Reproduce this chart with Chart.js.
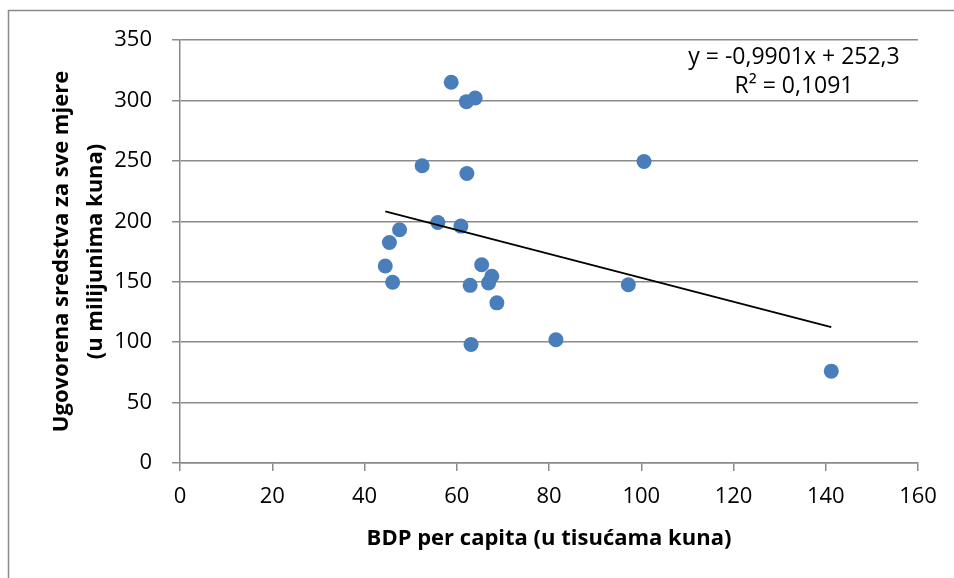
<!DOCTYPE html>
<html>
<head>
<meta charset="utf-8">
<script src="https://cdn.jsdelivr.net/npm/chart.js@4.4.1/dist/chart.umd.min.js"></script>
<style>
  html, body { margin: 0; padding: 0; background: #fff; }
  #wrap { width: 954px; height: 578px; position: relative; }
</style>
</head>
<body>
<div id="wrap"><canvas id="chart" width="954" height="578"></canvas></div>
<script>
// Data
const bdp = [58.8, 62.1, 64.0, 52.5, 62.2, 100.6, 47.6, 45.4, 44.5, 46.1, 55.9,
  60.9, 65.4, 67.6, 66.9, 62.9, 68.7, 63.1, 81.5, 97.2, 141.2];
const sredstva = [315, 299, 302, 246, 239.5, 249.5, 193, 182.5, 163, 149.5, 199,
  196, 164, 154.5, 149, 147, 132.5, 98, 102, 147.5, 76];
const xTicks = [0, 20, 40, 60, 80, 100, 120, 140, 160];
const yTicks = [0, 50, 100, 150, 200, 250, 300, 350];

// Trendline as given in the chart
const slope = -0.9901;
const intercept = 252.3;
const eqLines = ['y = -0,9901x + 252,3', 'R² = 0,1091'];

const points = bdp.map((x, i) => ({ x, y: sredstva[i] }));
const xMin = Math.min(...bdp);
const xMax = Math.max(...bdp);
const trend = [xMin, xMax].map(x => ({ x, y: slope * x + intercept }));

const FONT = "'Open Sans', 'Noto Sans', sans-serif";
const GRID = '#8a8a8a';

// Frame + equation text
const extras = {
  id: 'extras',
  afterDraw(chart) {
    const ctx = chart.ctx;
    ctx.save();
    ctx.strokeStyle = '#8a8a8a';
    ctx.lineWidth = 1.5;
    ctx.strokeRect(8.5, 10.5, 1000, 700);
    ctx.fillStyle = '#000';
    ctx.font = `23px ${FONT}`;
    ctx.textAlign = 'center';
    ctx.textBaseline = 'middle';
    ctx.fillText(eqLines[0], 794, 57);
    ctx.fillText(eqLines[1], 794, 86);
    ctx.restore();
  }
};

new Chart(document.getElementById('chart'), {
  type: 'scatter',
  data: {
    datasets: [
      {
        type: 'line',
        data: trend,
        borderColor: '#000',
        borderWidth: 1.8,
        pointRadius: 0,
        fill: false,
        order: 0
      },
      {
        data: points,
        backgroundColor: '#4a7ebb',
        borderWidth: 0,
        pointRadius: 7.5,
        pointHoverRadius: 7.5,
        order: 1
      }
    ]
  },
  options: {
    responsive: false,
    animation: false,
    layout: { padding: { left: 0, top: 40, right: 36, bottom: 0 } },
    plugins: { legend: { display: false }, tooltip: { enabled: false } },
    scales: {
      x: {
        type: 'linear',
        min: 0, max: 160,
        afterBuildTicks: (s) => { s.ticks = xTicks.map(v => ({ value: v })); },
        afterFit: (s) => { s.height = 115; },
        grid: { drawOnChartArea: false, drawTicks: true, tickLength: 8, color: GRID, lineWidth: 1.5 },
        border: { display: true, color: GRID, width: 1.5 },
        ticks: { color: '#000', font: { family: FONT, size: 22 }, padding: 13 },
        title: {
          display: true,
          text: 'BDP per capita (u tisućama kuna)',
          color: '#000',
          font: { family: FONT, size: 22, weight: 'bold', lineHeight: 1.2 },
          padding: { top: 0, bottom: 26 }
        }
      },
      y: {
        type: 'linear',
        min: 0, max: 350,
        afterBuildTicks: (s) => { s.ticks = yTicks.map(v => ({ value: v })); },
        afterFit: (s) => { s.width = 180; },
        grid: { color: GRID, lineWidth: 1.5, drawTicks: true, tickLength: 8 },
        border: { display: true, color: GRID, width: 1.5 },
        ticks: { color: '#000', font: { family: FONT, size: 22 }, padding: 20 },
        title: {
          display: true,
          text: ['Ugovorena sredstva za sve mjere', '(u milijunima kuna)'],
          color: '#000',
          font: { family: FONT, size: 22, weight: 'bold', lineHeight: 1.55 },
          padding: { top: 45, bottom: 0 }
        }
      }
    }
  },
  plugins: [extras]
});
</script>
</body>
</html>
